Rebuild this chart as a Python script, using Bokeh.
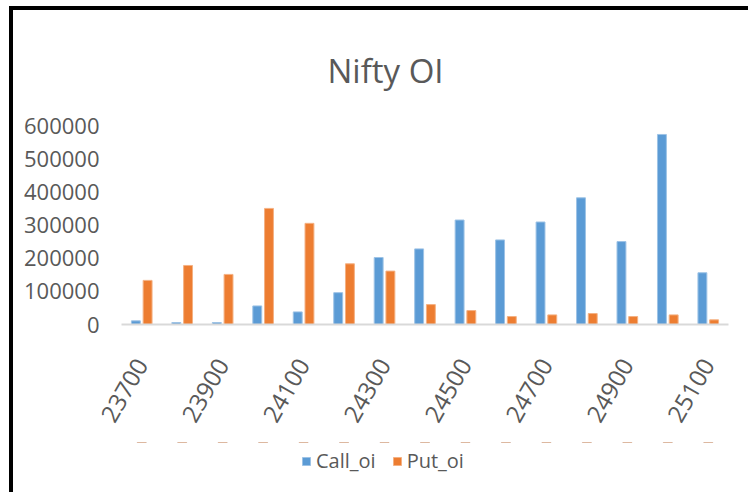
from bokeh.plotting import figure
from bokeh.layouts import column
from bokeh.models import ColumnDataSource, Range1d, FixedTicker, Legend, LegendItem, NumeralTickFormatter
from bokeh.transform import dodge
from bokeh.embed import file_html
from bokeh.resources import INLINE
import math

strikes = ["23700", "23800", "23900", "24000", "24100", "24200", "24300", "24400",
           "24500", "24600", "24700", "24800", "24900", "25000", "25100"]
call_oi = [11000, 6000, 6000, 56000, 38000, 96000, 202000, 228000,
           315000, 255000, 309000, 382000, 250000, 573000, 156000]
put_oi = [133000, 178000, 151000, 350000, 305000, 183000, 161000, 60000,
          42000, 24000, 29000, 33000, 24000, 29000, 14000]
y_ticks = [0, 100000, 200000, 300000, 400000, 500000, 600000]
series_names = ["Call_oi", "Put_oi"]
series_cols = ["call", "put"]
series_colors = ["#5B9BD5", "#ED7D31"]
edge_colors = ["#9DC3E6", "#F4B183"]

idx = list(range(len(strikes)))
src = ColumnDataSource(dict(x=idx, call=call_oi, put=put_oi))

FONT = "Open Sans"
GREY = "#595959"

p = figure(frame_width=607, frame_height=199, output_backend="svg", toolbar_location=None,
           x_range=Range1d(-0.5, len(strikes) - 0.5), y_range=Range1d(0, 600000),
           min_border_left=108, min_border_right=20, min_border_top=115,
           min_border_bottom=118, title="Nifty OI")

p.title.align = "left"
p.title.offset = 206
p.title.text_font = FONT
p.title.text_font_size = "33px"
p.title.text_font_style = "normal"
p.title.text_color = GREY
p.title.standoff = 65

r1 = p.vbar(x=dodge("x", -0.145, range=p.x_range), top="call", width=0.22, bottom=0,
            source=src, fill_color=series_colors[0], line_color=edge_colors[0], line_width=1)
r2 = p.vbar(x=dodge("x", 0.145, range=p.x_range), top="put", width=0.22, bottom=0,
            source=src, fill_color=series_colors[1], line_color=edge_colors[1], line_width=1)

p.xgrid.visible = False
p.ygrid.visible = False
p.outline_line_color = None

p.yaxis.ticker = FixedTicker(ticks=y_ticks)
p.yaxis.formatter = NumeralTickFormatter(format="0")
p.yaxis.axis_line_color = None
p.yaxis.major_tick_line_color = None
p.yaxis.minor_tick_line_color = None
p.yaxis.major_label_text_font = FONT
p.yaxis.major_label_text_font_size = "22px"
p.yaxis.major_label_text_color = GREY
p.yaxis.major_label_standoff = 16

p.xaxis.ticker = FixedTicker(ticks=idx[::2])
p.xaxis.major_label_overrides = {i: strikes[i] for i in idx}
p.xaxis.axis_line_color = "#D9D9D9"
p.xaxis.axis_line_width = 2
p.xaxis.major_tick_line_color = None
p.xaxis.minor_tick_line_color = None
p.xaxis.major_label_orientation = math.pi / 3
p.xaxis.major_label_text_font = FONT
p.xaxis.major_label_text_font_size = "24px"
p.xaxis.major_label_text_color = GREY
p.xaxis.major_label_standoff = 30

# legend strip below the chart (its bars lie outside the strip's visible range)
p2 = figure(width=735, height=50, output_backend="svg", toolbar_location=None,
            x_range=Range1d(-0.5, len(strikes) - 0.5), y_range=Range1d(-2, -1),
            x_axis_location=None, y_axis_location=None, min_border=0)
p2.grid.visible = False
p2.outline_line_color = None
leg_renderers = []
for col, c, e in zip(series_cols, series_colors, edge_colors):
    leg_renderers.append(p2.vbar(x="x", top=col, bottom=0, width=0.22, source=src,
                                 fill_color=c, line_color=e))

legend = Legend(items=[LegendItem(label=n, renderers=[r]) for n, r in zip(series_names, leg_renderers)],
                location=(180, 18), orientation="horizontal")
legend.label_text_font = FONT
legend.label_text_font_size = "20px"
legend.label_text_color = GREY
legend.glyph_width = 10
legend.glyph_height = 10
legend.label_standoff = 5
legend.spacing = 16
legend.padding = 0
legend.margin = 0
legend.border_line_color = None
legend.background_fill_alpha = 0
p2.add_layout(legend, "center")

lay = column(p, p2, spacing=0)
lay.styles = {"border-top": "4px solid black", "border-left": "4px solid black",
              "margin-top": "6px", "margin-left": "9px"}

open("out.html", "w").write(file_html(lay, INLINE))
